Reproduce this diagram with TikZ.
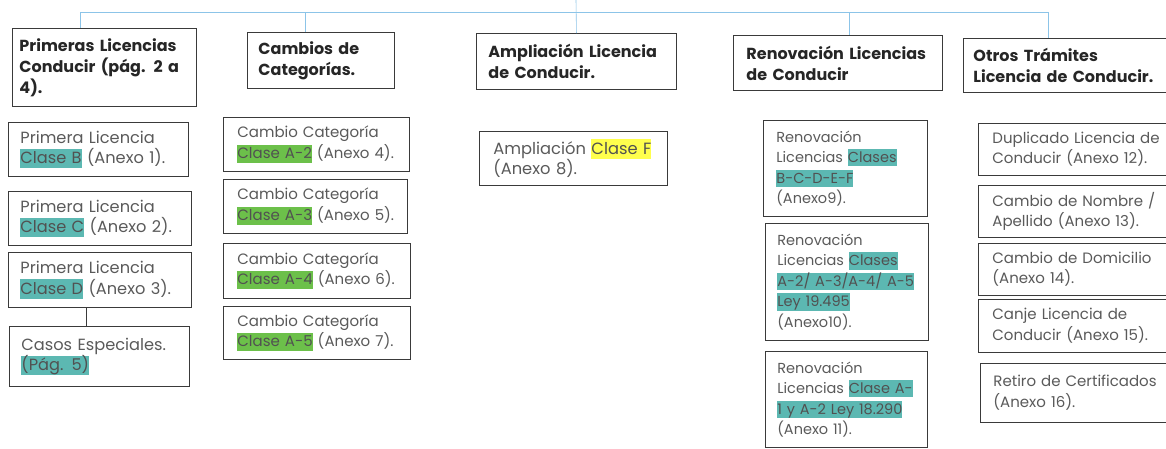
\documentclass[tikz,border=0pt]{standalone}
\usepackage{fontspec}
\setmainfont{Poppins}
\usepackage{xcolor}
\definecolor{hlteal}{HTML}{5CB8B2}
\definecolor{hlgreen}{HTML}{6CC04A}
\definecolor{hlyellow}{HTML}{FFFF4D}
\definecolor{txtgray}{HTML}{5A5A5A}
\definecolor{hdrtxt}{HTML}{262626}
\definecolor{bord}{HTML}{3A3A3A}
\definecolor{connblue}{HTML}{8CC4E8}
\newcommand{\hlbox}[2]{{\setlength{\fboxsep}{0pt}\colorbox{#1}{\vphantom{Ág}\color{hdrtxt!80}#2}}}
\newcommand{\oneline}[1]{\mbox{#1}}
\tikzset{
  hbox/.style={draw=bord, line width=0.9pt, anchor=north west, align=left,
    font=\fontsize{16}{21}\selectfont\bfseries, text=hdrtxt, inner ysep=0pt},
  sbox/.style={draw=bord, line width=0.8pt, anchor=north west, align=left,
    font=\fontsize{15}{20.5}\selectfont, text=txtgray, inner ysep=0pt},
  fsz/.style={font=\fontsize{#1}{20.5}\selectfont},
  conn/.style={draw=connblue, line width=0.6pt}
}
\begin{document}
\begin{tikzpicture}[x=1pt,y=-1pt]
\clip (0,0) rectangle (1166,448);
\fill[white] (0,0) rectangle (1166,448);
% headers
\node[hbox, minimum width=184pt, minimum height=78pt, inner xsep=7pt, text width=170pt] (h1) at (12,28) {\oneline{Primeras Licencias}\\\oneline{Conducir (pág. 2 a}\\4).};
\node[hbox, minimum width=147pt, minimum height=56pt, inner xsep=11pt, text width=125pt] (h2) at (247,32) {\oneline{Cambios de}\\\oneline{Categorías.}};
\node[hbox, minimum width=200pt, minimum height=56pt, inner xsep=12pt, text width=176pt] (h3) at (476,33) {\oneline{Ampliación Licencia}\\\oneline{de Conducir.}};
\node[hbox, minimum width=209pt, minimum height=55pt, inner xsep=13pt, text width=183pt] (h4) at (733,35) {\oneline{Renovación Licencias}\\\oneline{de Conducir}};
\node[hbox, minimum width=212pt, minimum height=54pt, inner xsep=10pt, text width=192pt] (h5) at (963,38) {\oneline{Otros Trámites}\\\oneline{Licencia de Conducir.}};
% connectors
\coordinate (root) at (576,0);
\coordinate (d1) at (80,12);
\coordinate (d2) at (305,12);
\coordinate (d4) at (849,12);
\coordinate (d5) at (1048,12);
\draw[conn] (root) -- (h3.north);
\draw[conn] (d1) -- (d5);
\draw[conn] (d1) -- (d1 |- h1.north);
\draw[conn] (d2) -- (d2 |- h2.north);
\draw[conn] (d4) -- (d4 |- h4.north);
\draw[conn] (d5) -- (d5 |- h5.north);
% column 1
\node[sbox, fsz=16.2, minimum width=180pt, minimum height=54pt, inner xsep=12pt, text width=156pt] (b1) at (8,122) {\oneline{Primera Licencia}\\\oneline{\hlbox{hlteal}{Clase B} (Anexo 1).}};
\node[sbox, fsz=16.2, minimum width=183pt, minimum height=54pt, inner xsep=12pt, text width=159pt] (b2) at (8,191) {\oneline{Primera Licencia}\\\oneline{\hlbox{hlteal}{Clase C} (Anexo 2).}};
\node[sbox, fsz=16.2, minimum width=183pt, minimum height=55pt, inner xsep=12pt, text width=159pt] (b3) at (8,252) {\oneline{Primera Licencia}\\\oneline{\hlbox{hlteal}{Clase D} (Anexo 3).}};
\node[sbox, fsz=16.2, minimum width=180pt, minimum height=60pt, inner xsep=12pt, text width=156pt] (b4) at (9,326) {\oneline{Casos Especiales.}\\\hlbox{hlteal}{(Pág. 5)}};
\coordinate (k) at (86,0);
\draw[draw=bord, line width=0.8pt] (b3.south -| k) -- (b4.north -| k);
% column 2
\node[sbox, minimum width=186pt, minimum height=54pt, inner xsep=14pt, text width=158pt] (c1) at (223,117) {\oneline{Cambio Categoría}\\\oneline{\hlbox{hlgreen}{Clase A-2} (Anexo 4).}};
\node[sbox, minimum width=184pt, minimum height=54pt, inner xsep=14pt, text width=156pt] (c2) at (223,179) {\oneline{Cambio Categoría}\\\oneline{\hlbox{hlgreen}{Clase A-3} (Anexo 5).}};
\node[sbox, minimum width=187pt, minimum height=55pt, inner xsep=14pt, text width=159pt] (c3) at (223,243) {\oneline{Cambio Categoría}\\\oneline{\hlbox{hlgreen}{Clase A-4} (Anexo 6).}};
\node[sbox, minimum width=187pt, minimum height=53pt, inner xsep=14pt, text width=159pt] (c4) at (223,306) {\oneline{Cambio Categoría}\\\oneline{\hlbox{hlgreen}{Clase A-5} (Anexo 7).}};
% column 3
\node[sbox, fsz=16.3, minimum width=188pt, minimum height=54pt, inner xsep=14pt, text width=160pt] (a1) at (479,131) {\oneline{Ampliación \hlbox{hlyellow}{Clase F}}\\(Anexo 8).};
% column 4
\node[sbox, fsz=14.5, minimum width=164pt, minimum height=96pt, inner xsep=13pt, text width=138pt] (r1) at (763,120) {Renovación\\\oneline{Licencias \hlbox{hlteal}{Clases}}\\\hlbox{hlteal}{B-C-D-E-F}\\(Anexo9).};
\node[sbox, fsz=14.5, minimum width=163pt, minimum height=117pt, inner xsep=12pt, text width=139pt] (r2) at (765,223) {Renovación\\\oneline{Licencias \hlbox{hlteal}{Clases}}\\\oneline{\hlbox{hlteal}{A-2/ A-3/A-4/ A-5}}\\\hlbox{hlteal}{Ley 19.495}\\(Anexo10).};
\node[sbox, fsz=14.5, minimum width=162pt, minimum height=96pt, inner xsep=12pt, text width=138pt] (r3) at (765,351) {Renovación\\\oneline{Licencias \hlbox{hlteal}{Clase A-}}\\\oneline{\hlbox{hlteal}{1 y A-2 Ley 18.290}}\\\oneline{(Anexo 11).}};
% column 5
\node[sbox, minimum width=218pt, minimum height=52pt, inner xsep=14pt, text width=190pt] (o1) at (978,123) {\oneline{Duplicado Licencia de}\\\oneline{Conducir (Anexo 12).}};
\node[sbox, minimum width=218pt, minimum height=52pt, inner xsep=14pt, text width=190pt] (o2) at (978,185) {\oneline{Cambio de Nombre /}\\\oneline{Apellido (Anexo 13).}};
\node[sbox, minimum width=218pt, minimum height=52pt, inner xsep=14pt, text width=190pt] (o3) at (978,243) {\oneline{Cambio de Domicilio}\\\oneline{(Anexo 14).}};
\node[sbox, minimum width=218pt, minimum height=53pt, inner xsep=14pt, text width=190pt] (o4) at (978,299) {\oneline{Canje Licencia de}\\\oneline{Conducir (Anexo 15).}};
\node[sbox, minimum width=216pt, minimum height=59pt, inner xsep=13pt, text width=190pt] (o5) at (980,363) {\oneline{Retiro de Certificados}\\\oneline{(Anexo 16).}};
\end{tikzpicture}
\end{document}
